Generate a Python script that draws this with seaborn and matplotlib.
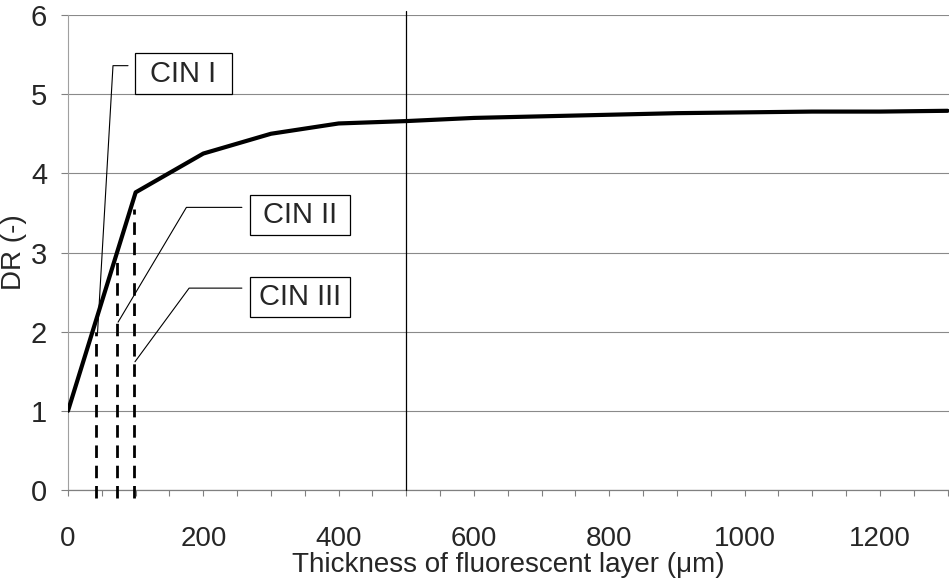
import matplotlib
matplotlib.use("Agg")
import matplotlib.pyplot as plt
import seaborn as sns
import pandas as pd
from matplotlib.patches import Rectangle
from matplotlib.ticker import MultipleLocator

# ---- data ----
thickness = [0, 100, 200, 300, 400, 500, 600, 700, 800, 900, 1000, 1100, 1200, 1300]
dr_values = [1.0, 3.76, 4.25, 4.50, 4.63, 4.66, 4.70, 4.72, 4.74, 4.76, 4.77, 4.78, 4.78, 4.79]
cin_labels = ["CIN I", "CIN II", "CIN III"]
cin_thickness = [41, 72, 98]
cin_dr_top = [2.0, 2.95, 3.55]
ref_thickness = 500
x_ticks = [0, 200, 400, 600, 800, 1000, 1200]
y_ticks = [0, 1, 2, 3, 4, 5, 6]

# annotation geometry (data coords)
box_x0 = [99, 269, 269]
box_x1 = [242, 417, 417]
box_y0 = [5.00, 3.22, 2.19]
box_y1 = [5.52, 3.73, 2.69]
leader_x = [[88.7, 66.5, 43.6], [257, 175, 74], [257, 179, 99]]
leader_y = [[5.36, 5.36, 1.98], [3.57, 3.57, 2.12], [2.55, 2.55, 1.62]]

df = pd.DataFrame({"Thickness": thickness, "DR": dr_values})

sns.set_style("white")
plt.rcParams["font.family"] = ["Liberation Sans", "DejaVu Sans"]

W, H = 949, 582
fig = plt.figure(figsize=(W / 100, H / 100), dpi=100)
ax = fig.add_axes([68 / W, 92 / H, (W - 68) / W, (490 - 15) / H])

sns.lineplot(data=df, x="Thickness", y="DR", color="black", lw=3.0, ax=ax, zorder=5)

ax.set_xlim(0, (W - 68) / 0.6766)
ax.set_ylim(0, 6)

# reference vertical line
ax.plot([ref_thickness, ref_thickness], [0, 6.05], color="black", lw=0.9,
        clip_on=False, zorder=3)

# dashed drop lines
for xv, yt in zip(cin_thickness, cin_dr_top):
    ax.plot([xv, xv], [-0.1, yt], color="black", lw=2.0, ls=(0, (4.5, 2.8)),
            clip_on=False, zorder=4)

# leader lines and boxes
for lab, bx0, bx1, by0, by1, lx, ly in zip(cin_labels, box_x0, box_x1, box_y0,
                                           box_y1, leader_x, leader_y):
    ax.plot(lx, ly, color="black", lw=0.8, zorder=4)
    ax.add_patch(Rectangle((bx0, by0), bx1 - bx0, by1 - by0, facecolor="white",
                           edgecolor="black", lw=0.9, zorder=6))
    ax.text((bx0 + bx1) / 2, (by0 + by1) / 2, lab, ha="center", va="center",
            fontsize=21, zorder=7)

# grid and spines
ax.yaxis.grid(True, color="#8a8a8a", lw=0.8)
ax.xaxis.grid(False)
for s in ["top", "right"]:
    ax.spines[s].set_visible(False)
ax.spines["left"].set_color("#a0a0a0")
ax.spines["left"].set_linewidth(0.8)
ax.spines["bottom"].set_color("#808080")
ax.spines["bottom"].set_linewidth(0.9)

ax.set_xticks(x_ticks)
ax.set_yticks(y_ticks)
ax.xaxis.set_minor_locator(MultipleLocator(50))
ax.tick_params(axis="y", which="major", left=True, length=5, width=0.8,
               color="#808080", pad=10, labelsize=21)
ax.tick_params(axis="x", which="both", bottom=True, length=4, width=0.8,
               color="#808080", direction="out")
ax.tick_params(axis="x", which="major", pad=22, labelsize=20)

ax.set_xlabel("Thickness of fluorescent layer (\u03bcm)", fontsize=20, labelpad=0)
ax.set_ylabel("DR (-)", fontsize=20)
ax.yaxis.set_label_coords(-0.046, 0.5)

fig.savefig("out.png", dpi=100)
